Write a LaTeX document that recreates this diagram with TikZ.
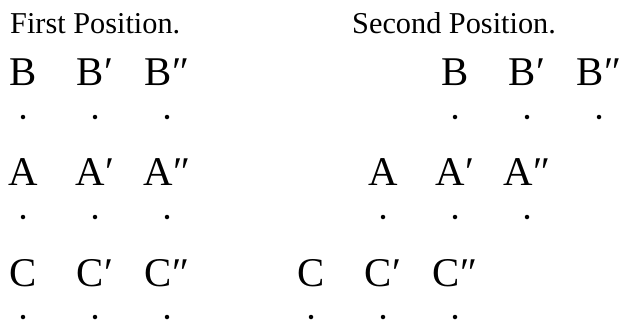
\documentclass[tikz,border=0pt]{standalone}
\usepackage{fontspec}
\setmainfont{Liberation Serif}
\usetikzlibrary{positioning}
\tikzset{
  pt/.style={circle, fill=black, inner sep=0pt, minimum size=4.5pt},
  lbl/.style={anchor=base, inner sep=0pt, font=\fontsize{40.8}{48}\selectfont},
  ttl/.style={anchor=base west, inner sep=0pt, font=\fontsize{30.3}{36}\selectfont}
}

\begin{document}
\begin{tikzpicture}[x=1pt, y=-1pt]
  \useasboundingbox (0,0) rectangle (621,322);
  % titles
  \node[ttl] (t1) at (10,33) {First Position.};
  \node[ttl] (t2) at (352,33) {Second Position.};
  % first position
  \foreach \x/\s/\n in {23//1, 95/′/2, 167/″/3} {
    \node[lbl] (b\n) at (\x,85) {B\s};
    \node[pt] (pb\n) at (\x,117) {};
    \node[lbl] (a\n) at (\x,185) {A\s};
    \node[pt] (pa\n) at (\x,217) {};
    \node[lbl] (c\n) at (\x,286) {C\s};
    \node[pt] (pc\n) at (\x,317) {};
  }
  % second position, rows shifted
  \foreach \x/\s/\n in {311//1, 383/′/2, 455/″/3} {
    \node[lbl] (sc\n) at (\x,286) {C\s};
    \node[pt] (spc\n) at (\x,317) {};
    \node[lbl] (sa\n) at (\x+72,185) {A\s};
    \node[pt] (spa\n) at (\x+72,217) {};
    \node[lbl] (sb\n) at (\x+144,85) {B\s};
    \node[pt] (spb\n) at (\x+144,117) {};
  }
\end{tikzpicture}
\end{document}
